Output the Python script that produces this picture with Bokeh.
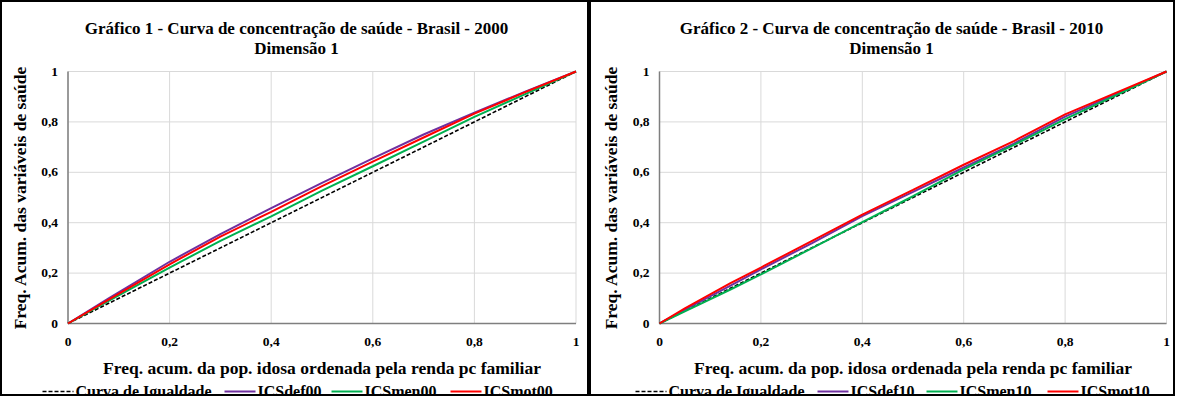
import math
from bokeh.plotting import figure
from bokeh.models import Range1d
from bokeh.core.properties import value
from bokeh.layouts import row
from bokeh.embed import file_html
from bokeh.resources import INLINE

# ---------------- data ----------------
eq_x = [0, 1]
eq_y = [0, 1]

x00 = [0, 0.08, 0.2, 0.3, 0.4, 0.5, 0.6, 0.7, 0.8, 0.9, 1]
def00 = [0, 0.100, 0.245, 0.355, 0.458, 0.558, 0.655, 0.750, 0.837, 0.920, 1]
mot00 = [0, 0.095, 0.235, 0.345, 0.443, 0.545, 0.642, 0.738, 0.833, 0.918, 1]
men00 = [0, 0.090, 0.222, 0.328, 0.425, 0.527, 0.624, 0.722, 0.820, 0.910, 1]

x10 = [0, 0.05, 0.14, 0.2, 0.3, 0.4, 0.5, 0.6, 0.7, 0.8, 0.9, 1]
def10 = [0, 0.055, 0.150, 0.215, 0.318, 0.426, 0.522, 0.619, 0.715, 0.821, 0.910, 1]
mot10 = [0, 0.060, 0.160, 0.222, 0.327, 0.432, 0.530, 0.630, 0.725, 0.830, 0.915, 1]
men10 = [0, 0.048, 0.135, 0.195, 0.298, 0.402, 0.505, 0.612, 0.710, 0.811, 0.905, 1]

ticks = [0, 0.2, 0.4, 0.6, 0.8, 1]
tick_labels = ["0", "0,2", "0,4", "0,6", "0,8", "1"]

X_TITLE = "Freq. acum. da pop. idosa ordenada pela renda pc familiar"
Y_TITLE = "Freq. Acum. das variáveis de saúde"

FONT = "Liberation Serif"
C_DEF = "#7030A0"
C_MEN = "#00B050"
C_MOT = "#FF0000"
H = 396


def make_panel(title1, title2, xs, ydef, ymen, ymot, names, width,
               x0px, x1px, tcx, leg_x):
    # pixel layout of the plotting area inside the panel canvas
    y0px, y1px = 321.0, 69.0
    ppx = x1px - x0px
    ppy = y0px - y1px
    xs_start = -x0px / ppx
    xs_end = 1 + (width - x1px) / ppx
    ys_start = -(H - y0px) / ppy
    ys_end = 1 + y1px / ppy

    def X(px):
        return xs_start + px / ppx

    def Y(py):
        return ys_end - py / ppy

    p = figure(width=width, height=H,
               x_range=Range1d(xs_start, xs_end), y_range=Range1d(ys_start, ys_end),
               x_axis_type=None, y_axis_type=None,
               output_backend="svg", toolbar_location=None, title=None,
               min_border=0)
    p.styles = {"border": "2px solid black"}
    p.outline_line_color = None
    p.background_fill_color = "white"
    p.border_fill_color = "white"

    n = len(ticks)
    # grid
    p.segment(x0=ticks, y0=[0] * n, x1=ticks, y1=[1] * n, line_color="#D9D9D9", line_width=1)
    p.segment(x0=[0] * n, y0=ticks, x1=[1] * n, y1=ticks, line_color="#D9D9D9", line_width=1)
    # axis lines
    p.line([0, 0], [0, 1], line_color="#7F7F7F", line_width=1.5)
    p.line([0, 1], [0, 0], line_color="#7F7F7F", line_width=1.5)

    # tick labels
    p.text(x=ticks, y=[Y(y0px + 18)] * n, text=tick_labels,
           text_align="center", text_baseline="middle",
           text_font=value(FONT), text_font_style="bold",
           text_font_size=value("13.5px"), text_color="black")
    p.text(x=[X(x0px - 10)] * n, y=ticks, text=tick_labels,
           text_align="right", text_baseline="middle",
           text_font=value(FONT), text_font_style="bold",
           text_font_size=value("13.5px"), text_color="black")

    # axis titles
    p.text(x=[0.5], y=[Y(y0px + 44)], text=[X_TITLE],
           text_align="center", text_baseline="middle",
           text_font=value(FONT), text_font_style="bold",
           text_font_size=value("17.5px"), text_color="black")
    p.text(x=[X(x0px - 48.5)], y=[0.5], text=[Y_TITLE], angle=math.pi / 2,
           text_align="center", text_baseline="middle",
           text_font=value(FONT), text_font_style="bold",
           text_font_size=value("17.5px"), text_color="black")

    # chart titles
    p.text(x=[X(tcx), X(tcx)], y=[Y(26), Y(46)], text=[title1, title2],
           text_align="center", text_baseline="middle",
           text_font=value(FONT), text_font_style="bold",
           text_font_size=value("17px"), text_color="black")

    # data lines
    p.line(eq_x, eq_y, line_color="black", line_width=1.6, line_dash="4 2")
    p.line(xs, ydef, line_color=C_DEF, line_width=2)
    p.line(xs, ymen, line_color=C_MEN, line_width=2)
    p.line(xs, ymot, line_color=C_MOT, line_width=2)

    # legend below the axis title
    ly = Y(389)
    items = [("Curva de Igualdade", "black", "4 2", 1.6), (names[0], C_DEF, "solid", 2),
             (names[1], C_MEN, "solid", 2), (names[2], C_MOT, "solid", 2)]
    for (lab, col, dash, lw), gx in zip(items, leg_x):
        p.line([X(gx), X(gx + 31)], [ly, ly], line_color=col, line_width=lw, line_dash=dash)
        p.text(x=[X(gx + 33)], y=[ly], text=[lab],
               text_align="left", text_baseline="middle",
               text_font=value(FONT), text_font_style="bold",
               text_font_size=value("16px"), text_color="black")
    return p


p1 = make_panel("Gráfico 1 - Curva de concentração de saúde - Brasil - 2000", "Dimensão 1",
                x00, def00, men00, mot00, ["ICSdef00", "ICSmen00", "ICSmot00"],
                589, 65.5, 573.5, 294, [40, 222, 329, 448])
p2 = make_panel("Gráfico 2 - Curva de concentração de saúde - Brasil - 2010", "Dimensão 1",
                x10, def10, men10, mot10, ["ICSdef10", "ICSmen10", "ICSmot10"],
                586, 68, 575, 300, [44, 226, 335, 456])

layout = row(p1, p2, spacing=0)
open("out.html", "w").write(file_html(layout, INLINE))
